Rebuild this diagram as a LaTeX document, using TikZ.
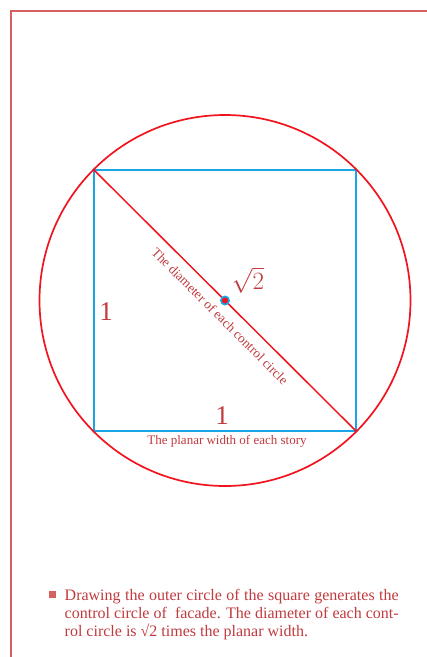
\documentclass[tikz,border=0pt]{standalone}
\usepackage{fontspec}
\setmainfont{Liberation Serif}
\definecolor{txtred}{RGB}{192,58,62}
\definecolor{framered}{RGB}{214,96,96}
\definecolor{sqblue}{RGB}{25,165,230}
\definecolor{circred}{RGB}{240,20,30}
\tikzset{
  lbl/.style={text=txtred, inner sep=0pt},
  sqline/.style={draw=sqblue, line width=1.8pt},
  redline/.style={draw=circred, line width=1.7pt},
}
\begin{document}
\begin{tikzpicture}[x=1pt,y=-1pt]
\useasboundingbox (0,0) rectangle (427,657);
% frame
\coordinate (F1) at (11,657);
\coordinate (F2) at (11,11);
\coordinate (F3) at (427,11);
\draw[framered, line width=2pt] (F1) -- (F2) -- (F3);
% square
\coordinate (A) at (94,170);
\coordinate (B) at (356,170);
\coordinate (C) at (356,431);
\coordinate (D) at (94,431);
\coordinate (O) at (225,300.5);
\draw[sqline] (A) -- (B) -- (C) -- (D) -- cycle;
\draw[redline] (O) circle (185.5);
\draw[redline, line width=1.5pt] (A) -- (C);
\fill[sqblue] (O) circle (5);
\fill[circred] (O) circle (3);
% labels
\node[lbl, font=\fontsize{27}{29}\selectfont] (one1) at (106,312) {1};
\node[lbl, font=\fontsize{27}{29}\selectfont] (one2) at (222,416) {1};
\node[lbl, font=\fontsize{28}{30}\selectfont] (sq2) at (248,280) {$\sqrt{2}$};
\node[lbl, font=\fontsize{13.3}{15}\selectfont, rotate=-45] (diam) at (220,316) {The diameter of each control circle};
\node[lbl, font=\fontsize{13}{15}\selectfont] (width) at (227,441) {The planar width of each story};
% bullet text
\fill[framered] (48.5,590.5) rectangle (55.5,597.5);
\node[lbl, anchor=north west, text width=334pt, align=justify, font=\fontsize{16}{18.2}\selectfont] (txt) at (64.5,589)
{Drawing the outer circle of the square generates the\linebreak control circle of\ \ facade. The diameter of each cont-\linebreak rol circle is √2 times the planar width.};
\end{tikzpicture}
\end{document}
